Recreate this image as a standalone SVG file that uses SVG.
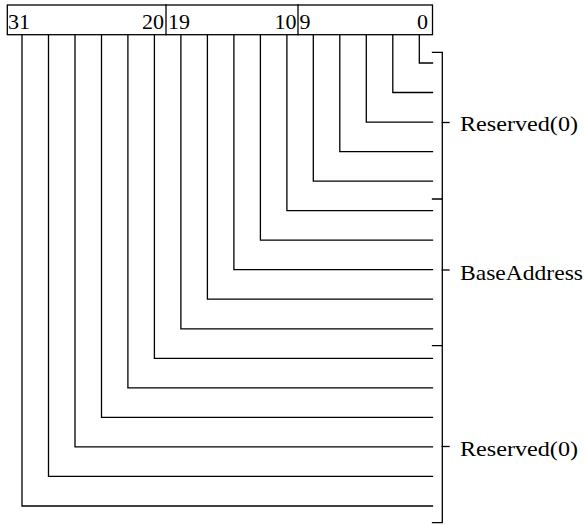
<svg xmlns="http://www.w3.org/2000/svg" width="585" height="525" viewBox="0 0 585 525">
<style>
  .ln{fill:none;stroke:#000;stroke-width:1.3;stroke-linecap:square}
  .t{font-family:"Liberation Serif","Times New Roman",serif;font-size:22px;fill:#000}
</style>
<rect width="585" height="525" fill="#fff"/>
<g id="register">
  <rect class="ln" x="7.3" y="5" width="425.2" height="29.7"/>
  <line class="ln" x1="166" y1="5" x2="166" y2="34.7"/>
  <line class="ln" x1="298" y1="5" x2="298" y2="34.7"/>
  <text class="t" x="8" y="28.5">31</text>
  <text class="t" x="164" y="28.5" text-anchor="end">20</text>
  <text class="t" x="168" y="28.5">19</text>
  <text class="t" x="296.5" y="28.5" text-anchor="end">10</text>
  <text class="t" x="299.5" y="28.5">9</text>
  <text class="t" x="428" y="28.5" text-anchor="end">0</text>
</g>
<g id="connectors">
  <path class="ln" d="M419.3 34.7V63H432.5"/>
  <path class="ln" d="M392.8 34.7V92.5H432.5"/>
  <path class="ln" d="M366.3 34.7V122.1H432.5"/>
  <path class="ln" d="M339.8 34.7V151.6H432.5"/>
  <path class="ln" d="M313.3 34.7V181.1H432.5"/>
  <path class="ln" d="M286.9 34.7V210.7H432.5"/>
  <path class="ln" d="M260.4 34.7V240.2H432.5"/>
  <path class="ln" d="M233.9 34.7V269.7H432.5"/>
  <path class="ln" d="M207.4 34.7V299.2H432.5"/>
  <path class="ln" d="M180.9 34.7V328.8H432.5"/>
  <path class="ln" d="M154.4 34.7V358.3H432.5"/>
  <path class="ln" d="M127.9 34.7V387.8H432.5"/>
  <path class="ln" d="M101.5 34.7V417.4H432.5"/>
  <path class="ln" d="M75 34.7V446.9H432.5"/>
  <path class="ln" d="M48.5 34.7V476.4H432.5"/>
  <path class="ln" d="M22 34.7V506H432.5"/>
</g>
<g id="bracket-reserved-low">
  <path class="ln" d="M432.5 52.3H442.3V199"/>
  <line class="ln" x1="442.3" y1="122.5" x2="449" y2="122.5"/>
  <text class="t" x="460" y="131" textLength="118" lengthAdjust="spacingAndGlyphs">Reserved(0)</text>
</g>
<g id="bracket-base-address">
  <path class="ln" d="M432.5 199H442.3V345.7"/>
  <line class="ln" x1="442.3" y1="270" x2="449" y2="270"/>
  <text class="t" x="460" y="279.5" textLength="123" lengthAdjust="spacingAndGlyphs">BaseAddress</text>
</g>
<g id="bracket-reserved-high">
  <path class="ln" d="M432.5 345.7H442.3V522.7H432.5"/>
  <line class="ln" x1="442.3" y1="446.5" x2="449" y2="446.5"/>
  <text class="t" x="460" y="456" textLength="118" lengthAdjust="spacingAndGlyphs">Reserved(0)</text>
</g>
</svg>
